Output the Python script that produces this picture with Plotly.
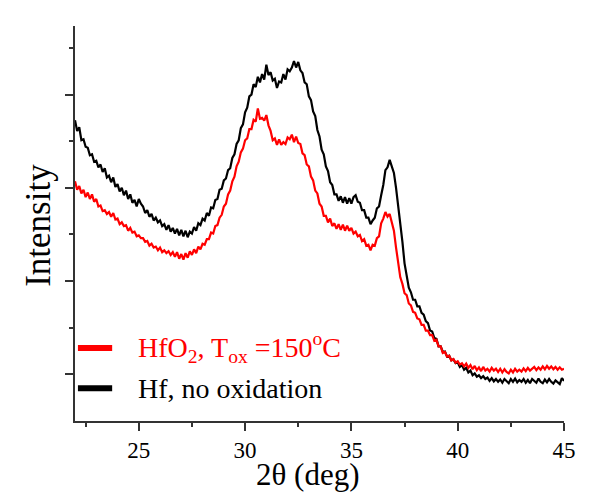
import plotly.graph_objects as go

# 2-theta grid (deg), 0.1 deg step from 22.0 to 45.0
two_theta = [round(22.0 + 0.1 * i, 1) for i in range(231)]

# Hf, no oxidation (arbitrary intensity units)
hf_no_ox = [
    6.45, 6.22, 6.30, 6.02, 6.04, 5.88, 5.86, 5.70, 5.72, 5.56,
    5.58, 5.44, 5.50, 5.34, 5.42, 5.22, 5.26, 5.12, 5.22, 5.02,
    5.08, 4.92, 5.00, 4.84, 4.94, 4.76, 4.86, 4.68, 4.74, 4.60,
    4.76, 4.66, 4.60, 4.46, 4.52, 4.38, 4.44, 4.30, 4.36, 4.26,
    4.30, 4.18, 4.22, 4.10, 4.20, 4.06, 4.14, 4.02, 4.12, 3.98,
    4.10, 3.96, 4.08, 3.94, 4.06, 4.02, 4.16, 4.08, 4.24, 4.20,
    4.34, 4.30, 4.46, 4.40, 4.58, 4.56, 4.74, 4.76, 4.96, 4.98,
    5.16, 5.20, 5.38, 5.42, 5.64, 5.72, 5.94, 6.02, 6.28, 6.36,
    6.62, 6.72, 6.96, 7.00, 7.22, 7.16, 7.38, 7.26, 7.44, 7.32,
    7.64, 7.42, 7.48, 7.30, 7.34, 7.14, 7.28, 7.26, 7.44, 7.32,
    7.54, 7.50, 7.58, 7.72, 7.58, 7.70, 7.52, 7.46, 7.26, 7.22,
    6.96, 6.88, 6.64, 6.54, 6.24, 6.10, 5.82, 5.72, 5.46, 5.36,
    5.12, 5.06, 4.86, 4.86, 4.72, 4.82, 4.68, 4.80, 4.66, 4.78,
    4.66, 4.80, 4.84, 4.70, 4.68, 4.52, 4.52, 4.36, 4.36, 4.22,
    4.30, 4.36, 4.56, 4.60, 4.84, 5.06, 5.38, 5.44, 5.60, 5.46,
    5.32, 5.00, 4.64, 4.18, 3.84, 3.38, 3.12, 2.86, 2.76, 2.60,
    2.60, 2.46, 2.46, 2.32, 2.28, 2.14, 2.10, 1.94, 1.92, 1.78,
    1.76, 1.60, 1.60, 1.48, 1.49, 1.38, 1.40, 1.30, 1.32, 1.24,
    1.26, 1.16, 1.20, 1.10, 1.14, 1.04, 1.08, 0.98, 1.02, 0.95,
    0.98, 0.92, 0.96, 0.90, 0.93, 0.86, 0.92, 0.85, 0.90, 0.84,
    0.89, 0.82, 0.90, 0.85, 0.81, 0.90, 0.84, 0.91, 0.83, 0.88,
    0.84, 0.90, 0.82, 0.88, 0.81, 0.90, 0.85, 0.82, 0.91, 0.84,
    0.81, 0.89, 0.83, 0.90, 0.84, 0.80, 0.87, 0.83, 0.79, 0.92,
    0.86,
]

# HfO2, Tox = 150 C (arbitrary intensity units)
hfo2_150 = [
    5.14, 4.96, 5.04, 4.88, 4.96, 4.80, 4.90, 4.76, 4.86, 4.70,
    4.76, 4.60, 4.62, 4.50, 4.52, 4.44, 4.48, 4.38, 4.46, 4.32,
    4.34, 4.22, 4.26, 4.18, 4.20, 4.08, 4.14, 4.04, 4.06, 3.96,
    3.98, 3.92, 3.92, 3.84, 3.86, 3.76, 3.80, 3.72, 3.74, 3.66,
    3.72, 3.62, 3.66, 3.60, 3.64, 3.56, 3.62, 3.52, 3.62, 3.48,
    3.58, 3.46, 3.60, 3.50, 3.64, 3.56, 3.68, 3.60, 3.74, 3.68,
    3.80, 3.78, 3.90, 3.90, 4.04, 4.02, 4.18, 4.20, 4.36, 4.42,
    4.60, 4.66, 4.86, 4.94, 5.14, 5.24, 5.46, 5.56, 5.76, 5.84,
    6.02, 6.06, 6.26, 6.26, 6.46, 6.42, 6.70, 6.48, 6.50, 6.44,
    6.56, 6.34, 6.22, 6.02, 6.06, 5.92, 6.04, 5.92, 5.98, 5.94,
    6.08, 6.04, 6.14, 5.98, 6.10, 5.96, 5.94, 5.74, 5.70, 5.50,
    5.46, 5.24, 5.16, 4.94, 4.88, 4.66, 4.60, 4.40, 4.40, 4.26,
    4.34, 4.18, 4.24, 4.12, 4.22, 4.10, 4.21, 4.08, 4.19, 4.08,
    4.14, 4.02, 4.06, 3.96, 3.99, 3.86, 3.90, 3.76, 3.78, 3.66,
    3.78, 3.76, 3.92, 3.96, 4.24, 4.34, 4.48, 4.38, 4.44, 4.22,
    4.08, 3.72, 3.44, 3.08, 2.94, 2.74, 2.70, 2.52, 2.48, 2.34,
    2.32, 2.20, 2.18, 2.06, 2.06, 1.94, 1.94, 1.84, 1.84, 1.72,
    1.74, 1.60, 1.60, 1.46, 1.48, 1.38, 1.40, 1.30, 1.33, 1.25,
    1.28, 1.21, 1.24, 1.17, 1.23, 1.14, 1.20, 1.11, 1.18, 1.09,
    1.15, 1.07, 1.16, 1.08, 1.12, 1.06, 1.14, 1.08, 1.12, 1.05,
    1.12, 1.04, 1.11, 1.05, 1.02, 1.10, 1.04, 1.12, 1.06, 1.10,
    1.06, 1.13, 1.07, 1.14, 1.08, 1.12, 1.16, 1.09, 1.15, 1.10,
    1.17, 1.11, 1.18, 1.12, 1.17, 1.11, 1.16, 1.10, 1.15, 1.10,
    1.12,
]

x_major = [25, 30, 35, 40, 45]
x_minor = [22.5, 27.5, 32.5, 37.5, 42.5]
y_major = [1, 3, 5, 7]
y_minor = [2, 4, 6, 8]

legend_labels = ["HfO<sub>2</sub>, T<sub>ox</sub> =150<sup>o</sup>C", "Hf, no oxidation"]
colors = ["#ff0000", "#000000"]

FONT = "Liberation Serif, Times New Roman, serif"

fig = go.Figure()
fig.add_trace(go.Scatter(x=two_theta, y=hf_no_ox, mode="lines",
                         line=dict(color=colors[1], width=2.2), showlegend=False))
fig.add_trace(go.Scatter(x=two_theta, y=hfo2_150, mode="lines",
                         line=dict(color=colors[0], width=2.2), showlegend=False))

axis_col = "#333333"
fig.update_layout(
    width=598, height=489,
    margin=dict(l=67, r=42, t=18, b=76),
    paper_bgcolor="white", plot_bgcolor="white",
    font=dict(family=FONT, color="black"),
    xaxis=dict(range=[22, 45], showgrid=False, zeroline=False,
               showline=True, linecolor=axis_col, linewidth=1.5,
               tickmode="array", tickvals=x_major, ticktext=[str(v) for v in x_major],
               ticks="outside", ticklen=8, tickwidth=1.5, tickcolor=axis_col,
               tickfont=dict(family=FONT, size=23, color="black"),
               minor=dict(tickvals=x_minor, ticks="outside", ticklen=4,
                          tickwidth=1.5, tickcolor=axis_col, showgrid=False)),
    yaxis=dict(range=[0, 8.47], showgrid=False, zeroline=False,
               showline=True, linecolor=axis_col, linewidth=1.5,
               tickmode="array", tickvals=y_major, showticklabels=False,
               ticks="outside", ticklen=8, tickwidth=1.5, tickcolor=axis_col,
               minor=dict(tickvals=y_minor, ticks="outside", ticklen=4,
                          tickwidth=1.5, tickcolor=axis_col, showgrid=False)),
)

# axis titles
fig.add_annotation(text="2θ (deg)", xref="paper", yref="paper", x=0.476, y=-0.136,
                   showarrow=False, xanchor="center", yanchor="middle",
                   font=dict(family=FONT, size=31, color="black"))
fig.add_annotation(text="Intensity", xref="paper", yref="paper", x=-0.075, y=0.495,
                   showarrow=False, textangle=-90, xanchor="center", yanchor="middle",
                   font=dict(family=FONT, size=35, color="black"))

# legend (manual)
leg_y = [0.185, 0.083]
for lab, col, yy in zip(legend_labels, colors, leg_y):
    fig.add_shape(type="line", xref="paper", yref="paper", x0=0.006, x1=0.076,
                  y0=yy, y1=yy, line=dict(color=col, width=6))
    fig.add_annotation(text=lab, xref="paper", yref="paper", x=0.125, y=yy,
                       showarrow=False, xanchor="left", yanchor="middle",
                       font=dict(family=FONT, size=28, color=col))

fig.write_html("out.html")
